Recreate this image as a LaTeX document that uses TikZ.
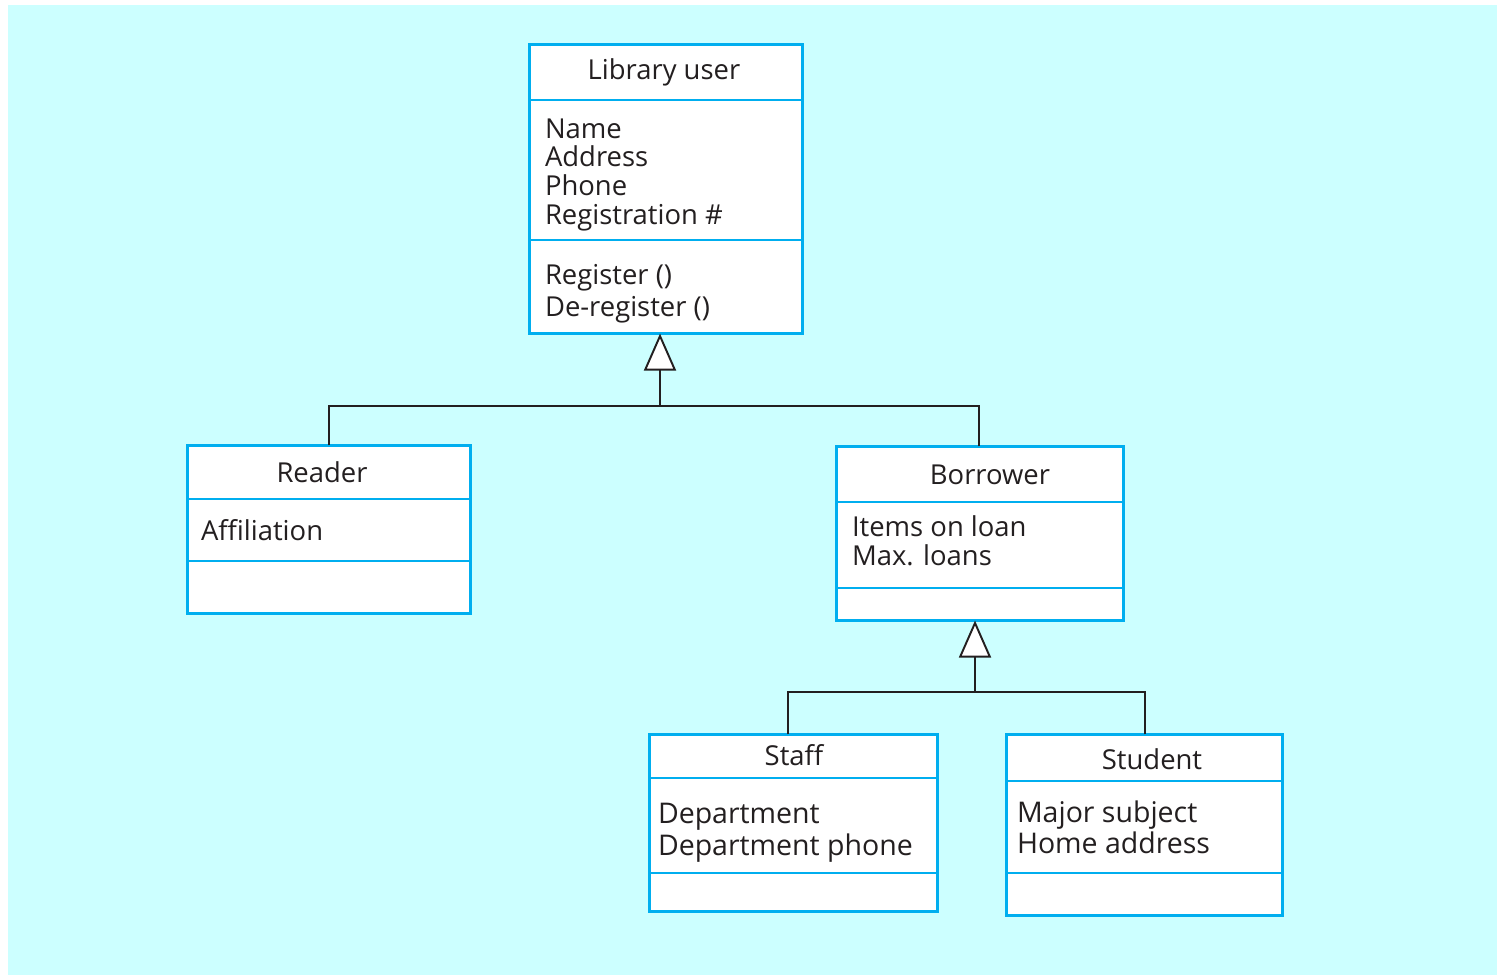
\documentclass[tikz,border=0pt]{standalone}
\usepackage{fontspec}
\setmainfont{Open Sans}
\usetikzlibrary{arrows.meta}
\definecolor{bg}{HTML}{CCFFFF}
\definecolor{umlblue}{HTML}{00AEEF}
\definecolor{ink}{HTML}{231F20}
\begin{document}
\begin{tikzpicture}[x=0.01cm,y=-0.01cm,
  box/.style={draw=umlblue, line width=1pt, fill=white, rectangle, inner sep=0pt, outer sep=0pt},
  div/.style={draw=umlblue, line width=0.6pt},
  txt/.style={font=\fontsize{7.8}{8.17}\selectfont, text=ink, inner sep=0pt, outer sep=0pt},
  ttl/.style={txt, anchor=base},
  attr/.style={txt, anchor=base west, align=left},
  gen/.style={draw=ink, line width=0.55pt, -{Triangle[open, fill=white, length=0.37cm, width=0.32cm, line width=0.55pt]}}]
\useasboundingbox (0,0) rectangle (1497,979);
\fill[bg] (8,5) rectangle (1497,975);

% boxes
\node[box, minimum width=2.73cm, minimum height=2.89cm] (lib) at (666,189) {};
\node[box, minimum width=2.83cm, minimum height=1.68cm] (reader) at (329,529.5) {};
\node[box, minimum width=2.87cm, minimum height=1.74cm] (borrower) at (980,533.5) {};
\node[box, minimum width=2.88cm, minimum height=1.77cm] (staff) at (793.5,823) {};
\node[box, minimum width=2.76cm, minimum height=1.81cm] (student) at (1144.5,825) {};

% dividers
\draw[div] (lib.west |- 0,100) -- (lib.east |- 0,100);
\draw[div] (lib.west |- 0,240) -- (lib.east |- 0,240);
\draw[div] (reader.west |- 0,499) -- (reader.east |- 0,499);
\draw[div] (reader.west |- 0,561) -- (reader.east |- 0,561);
\draw[div] (borrower.west |- 0,502) -- (borrower.east |- 0,502);
\draw[div] (borrower.west |- 0,588) -- (borrower.east |- 0,588);
\draw[div] (staff.west |- 0,778) -- (staff.east |- 0,778);
\draw[div] (staff.west |- 0,873) -- (staff.east |- 0,873);
\draw[div] (student.west |- 0,781) -- (student.east |- 0,781);
\draw[div] (student.west |- 0,873) -- (student.east |- 0,873);

% texts
\node[ttl] (libT) at (664,80) {Library user};
\node[attr] (libA) at (545,224.3) {Name\\Address\\Phone\\Registration \#};
\node[attr, font=\fontsize{7.8}{8.82}\selectfont] (libO) at (545,316) {Register ()\\De-register ()};
\node[ttl] (readerT) at (322,482) {Reader};
\node[attr] (readerA) at (201,540) {Affiliation};
\node[ttl] (borrowerT) at (990,484) {Borrower};
\node[attr, font=\fontsize{7.8}{8.25}\selectfont] (borrowerA) at (852,565.7) {Items on loan\\Max. loans};
\node[ttl] (staffT) at (794,765) {Staff};
\node[attr, font=\fontsize{8.1}{9.3}\selectfont] (staffA) at (658,855.7) {Department\\Department phone};
\node[ttl] (studentT) at (1152,769) {Student};
\node[attr, font=\fontsize{8.1}{8.73}\selectfont] (studentA) at (1017,853.3) {Major subject\\Home address};

% generalisation connectors
\coordinate (j1) at (660,406);
\coordinate (j2) at (975,692);
\draw[draw=ink, line width=0.55pt] (reader.north -| 329,0) |- (j1);
\draw[draw=ink, line width=0.55pt] (borrower.north -| 979,0) |- (j1);
\draw[gen] (j1) -- (j1 |- lib.south);
\draw[draw=ink, line width=0.55pt] (staff.north -| 788,0) |- (j2);
\draw[draw=ink, line width=0.55pt] (student.north -| 1145,0) |- (j2);
\draw[gen] (j2) -- (j2 |- borrower.south);
\end{tikzpicture}
\end{document}
